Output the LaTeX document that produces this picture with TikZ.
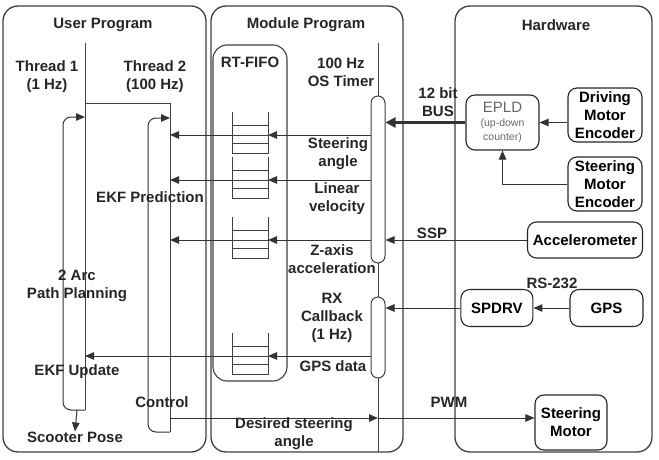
\documentclass[tikz,border=0pt]{standalone}
\usepackage{fontspec}
\setmainfont{Liberation Sans}
\usepackage{tikz}
\usetikzlibrary{arrows,arrows.meta,positioning}
\tikzset{
	%Define style for the three big panels
	panel/.style={
		rectangle,
		rounded corners=15pt,
		draw=black!75, line width=1.3pt},
	%Define style for hardware boxes
	hwbox/.style={
		rectangle,
		rounded corners=9pt,
		draw=black!85, line width=1.1pt,
		align=center,
		inner sep=0pt},
	%Define style for the timer bars
	bar/.style={
		rectangle,
		rounded corners=7pt,
		draw=black!75, line width=1pt,
		fill=white,
		minimum width=14pt,
		inner sep=0pt},
	%Define style for labels
	lbl/.style={
		align=center,
		inner sep=0pt,
		text=black!85},
	% Define arrow style
	edgeStyle/.style={
		-{Triangle[length=9pt,width=7.5pt]},
		draw=black!80,
		line width=1pt},
	% Define plain line style
	lineStyle/.style={
		draw=black!75,
		line width=1pt},
	% Define a FIFO stack
	fifostack/.pic={
		\draw[lineStyle] (-18,-23) -- (-18,18) -- (18,18) -- (18,-23);
		\draw[lineStyle] (-18,-10) -- (18,-10) (-18,0) -- (18,0) (-18,8) -- (18,8);
		\coordinate (-in) at (18,0);
		\coordinate (-out) at (-18,0);
	}
}

\begin{document}
\begin{tikzpicture}[x=1pt,y=-1pt,font=\fontsize{15}{18}\selectfont\bfseries]
		\useasboundingbox (0,0) rectangle (659,460);
		
		%panels
		\node[panel, minimum width=203pt, minimum height=446pt] (userPanel) at (104.5,229) {};
		\node[panel, minimum width=192pt, minimum height=446pt] (modulePanel) at (307,229) {};
		\node[panel, minimum width=197pt, minimum height=446pt] (hwPanel) at (553.5,229) {};
		\node[panel, rounded corners=14pt, line width=1.1pt, minimum width=74pt, minimum height=336pt] (fifoBox) at (250,213) {};
		
		\node[lbl] (userTitle) at (103,25) {User Program};
		\node[lbl] (moduleTitle) at (306,25) {Module Program};
		\node[lbl] (hwTitle) at (556,25) {Hardware};
		
		%user program
		\node[lbl] (thrOneLbl) at (47,77) {Thread 1\\(1 Hz)};
		\node[lbl] (thrTwoLbl) at (155,77) {Thread 2\\(100 Hz)};
		\coordinate (thrOne) at (85,43);
		\coordinate (thrTwo) at (170,103);
		\coordinate (thrOneEnd) at (77,410);
		\coordinate (ctrlStart) at (170,418);
		\draw[lineStyle] (thrOne) -- (85,410);
		\draw[lineStyle] (85,103) -- (thrTwo) -- (170,432);
		\draw[edgeStyle, rounded corners=8pt] (85,410) -- (63,410) -- (63,117) -- (85,117);
		\draw[edgeStyle, rounded corners=8pt] (170,432) -- (148,432) -- (148,118) -- (170,118);
		
		\node[lbl] (ekfPred) at (150,197) {EKF Prediction};
		\node[lbl] (pathPlan) at (77,286) {2 Arc\\Path Planning};
		\node[lbl] (ekfUpd) at (77,372) {EKF Update};
		\node[lbl] (ctrlLbl) at (162,402) {Control};
		\node[lbl] (pose) at (75,437) {Scooter Pose};
		\draw (thrOneEnd) edge[edgeStyle] (pose.north);
		
		%module program
		\node[lbl] (fifoLbl) at (250,62) {RT-FIFO};
		\node[lbl] (timerLbl) at (341,72) {100 Hz\\OS Timer};
		\coordinate (osTop) at (378,43);
		\draw[lineStyle] (osTop) -- (378,452);
		\node[bar, minimum height=167pt] (timer) at (378,179.5) {};
		\node[bar, minimum height=81pt] (rx) at (378,337.5) {};
		
		\pic (s1) at (250,135) {fifostack};
		\pic (s2) at (250,180) {fifostack};
		\pic (s3) at (250,240) {fifostack};
		\pic (s4) at (250,356) {fifostack};
		
		\node[lbl] (steerLbl) at (338,154) {Steering\\angle};
		\node[lbl] (velLbl) at (337,199) {Linear\\velocity};
		\node[lbl] (accLbl) at (332,259) {Z-axis\\acceleration};
		\node[lbl] (rxLbl) at (332,318) {RX\\Callback\\(1 Hz)};
		\node[lbl] (gpsDataLbl) at (333,366) {GPS data};
		\node[lbl] (desLbl) at (294,434) {Desired steering\\angle};
		
		\draw (timer.west |- s1-in) edge[edgeStyle] (s1-in);
		\draw (timer.west |- s2-in) edge[edgeStyle] (s2-in);
		\draw (timer.west |- s3-in) edge[edgeStyle] (s3-in);
		\draw (rx.west |- s4-in) edge[edgeStyle] (s4-in);
		\draw (s1-out) edge[edgeStyle] (s1-out -| thrTwo);
		\draw (s2-out) edge[edgeStyle] (s2-out -| thrTwo);
		\draw (s3-out) edge[edgeStyle] (s3-out -| thrTwo);
		\draw (s4-out) edge[edgeStyle] (s4-out -| thrOne);
		\draw (ctrlStart) edge[edgeStyle] (ctrlStart -| osTop);
		
		%hardware
		\node[hwbox, text=black!60, font=\mdseries\fontsize{10.5}{14}\selectfont, minimum width=73pt, minimum height=55pt] (epld) at (502.5,122.5) {{\fontsize{15}{15}\selectfont EPLD}\\(up-down\\counter)};
		\node[hwbox, minimum width=74pt, minimum height=54pt] (drEnc) at (605,115) {Driving\\Motor\\Encoder};
		\node[hwbox, minimum width=74pt, minimum height=54pt] (stEnc) at (605,184) {Steering\\Motor\\Encoder};
		\node[hwbox, minimum width=115pt, minimum height=36pt] (accel) at (585,240) {Accelerometer};
		\node[hwbox, minimum width=73pt, minimum height=37pt] (gps) at (606.5,308) {GPS};
		\node[hwbox, minimum width=72pt, minimum height=37pt, left=36pt of gps] (spdrv) {SPDRV};
		\node[hwbox, minimum width=72pt, minimum height=55pt] (stMotor) at (571,422.5) {Steering\\Motor};
		
		\node[lbl] (busLbl) at (438,102) {12 bit\\BUS};
		\node[lbl] (sspLbl) at (432,233) {SSP};
		\node[lbl] (rsLbl) at (552,283) {RS-232};
		\node[lbl] (pwmLbl) at (449,402) {PWM};
		
		\draw (drEnc.west |- epld.east) edge[edgeStyle] (epld.east);
		\draw[edgeStyle] (stEnc.west) -| (epld.south);
		\draw (epld.west) edge[edgeStyle, line width=2.4pt, -{Triangle[length=10pt,width=10pt]}] (timer.east |- epld.west);
		\draw (accel.west) edge[edgeStyle] (timer.east |- accel.west);
		\draw (gps.west) edge[edgeStyle] (spdrv.east);
		\draw (spdrv.west) edge[edgeStyle] (rx.east |- spdrv.west);
		\draw (ctrlStart -| osTop) edge[edgeStyle] (stMotor.west |- ctrlStart);
		
\end{tikzpicture}
\end{document}
